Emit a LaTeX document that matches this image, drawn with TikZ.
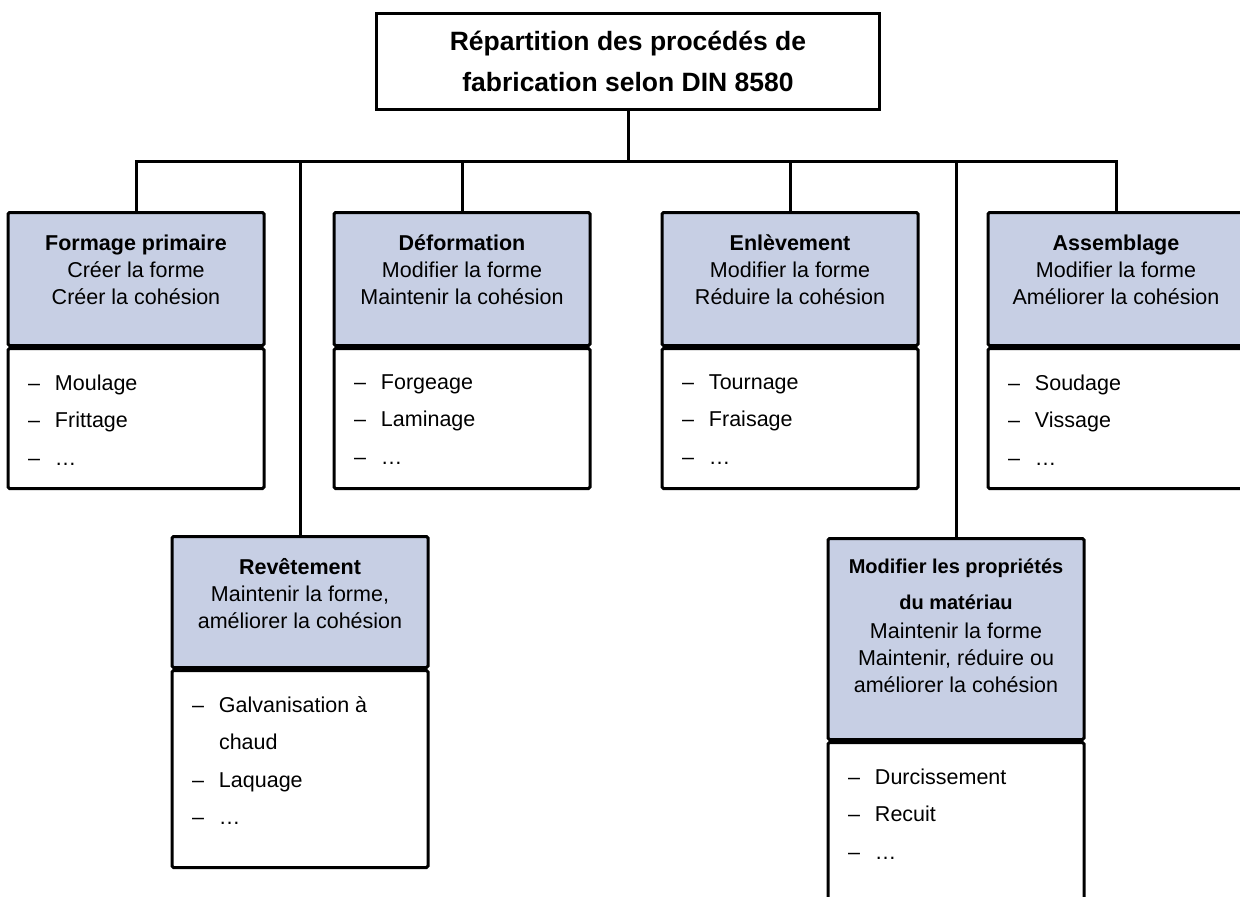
\documentclass[tikz,border=0pt]{standalone}
\usepackage{fontspec}
\setmainfont{Liberation Sans}
\usetikzlibrary{positioning}
\definecolor{headblue}{RGB}{199,207,228}

\begin{document}
\begin{tikzpicture}[x = {(1pt,0pt)},
                    y = {(0pt,-1pt)},
                    line width=3pt,
                    font=\fontsize{21.5}{27}\selectfont,
                    titlebox/.style={draw, minimum width=503pt, minimum height=96pt,
                                     align=center, font=\fontsize{26.5}{41}\selectfont\bfseries},
                    headbox/.style={draw, fill=headblue, rounded corners=1.5pt, anchor=north,
                                    minimum width=256pt, inner sep=0pt},
                    listbox/.style={draw, fill=white, rounded corners=1.5pt,
                                    minimum width=256pt, inner sep=0pt},
                    headtext/.style={align=center, inner sep=0pt,
                                     execute at begin node=\rule{0pt}{17pt}},
                    listtext/.style={align=left, inner sep=0pt,
                                     font=\fontsize{21.5}{37.5}\selectfont,
                                     execute at begin node=\rule{0pt}{17pt}},
                    link/.style={draw, line width=3pt}]

    \def\tiret{\makebox[27pt][l]{–}}

    \useasboundingbox (0,0) rectangle (1240,897);
    \clip (0,0) rectangle (1240,897);

    % top
    \node[titlebox] (title) at (628,61) {Répartition des procédés de\\fabrication selon DIN 8580};
    \coordinate (bus) at (628,161);

    % boxes of the first row
    \node[headbox, minimum height=133pt] (fpH) at (136,211) {};
    \node[listbox, minimum height=140pt, below=0pt of fpH] (fpL) {};
    \node[headbox, minimum height=133pt] (dfH) at (462,211) {};
    \node[listbox, minimum height=140pt, below=0pt of dfH] (dfL) {};
    \node[headbox, minimum height=133pt] (enH) at (790,211) {};
    \node[listbox, minimum height=140pt, below=0pt of enH] (enL) {};
    \node[headbox, minimum height=133pt] (asH) at (1116,211) {};
    \node[listbox, minimum height=140pt, below=0pt of asH] (asL) {};

    % boxes of the second row
    \node[headbox, minimum height=131pt] (rvH) at (300,535) {};
    \node[listbox, minimum height=197pt, below=0pt of rvH] (rvL) {};
    \node[headbox, minimum height=201pt] (mpH) at (956,537) {};
    \node[listbox, minimum height=200pt, below=0pt of mpH] (mpL) {};

    % texts
    \node[headtext, below=22pt of fpH.north] (fpT) {\textbf{Formage primaire}\\Créer la forme\\Créer la cohésion};
    \node[listtext, below right=26pt and 20pt of fpL.north west] (fpI) {\tiret Moulage\\\tiret Frittage\\\tiret \dots};

    \node[headtext, below=22pt of dfH.north] (dfT) {\textbf{Déformation}\\Modifier la forme\\Maintenir la cohésion};
    \node[listtext, below right=26pt and 20pt of dfL.north west] (dfI) {\tiret Forgeage\\\tiret Laminage\\\tiret \dots};

    \node[headtext, below=22pt of enH.north] (enT) {\textbf{Enlèvement}\\Modifier la forme\\Réduire la cohésion};
    \node[listtext, below right=26pt and 20pt of enL.north west] (enI) {\tiret Tournage\\\tiret Fraisage\\\tiret \dots};

    \node[headtext, below=22pt of asH.north] (asT) {\textbf{Assemblage}\\Modifier la forme\\Améliorer la cohésion};
    \node[listtext, below right=26pt and 20pt of asL.north west] (asI) {\tiret Soudage\\\tiret Vissage\\\tiret \dots};

    \node[headtext, below=22pt of rvH.north] (rvT) {\textbf{Revêtement}\\Maintenir la forme,\\améliorer la cohésion};
    \node[listtext, below right=26pt and 20pt of rvL.north west] (rvI) {\tiret Galvanisation à\\\hspace*{27pt}chaud\\\tiret Laquage\\\tiret \dots};

    \node[headtext, below=20pt of mpH.north] (mpT) {{\fontsize{20}{24}\selectfont\bfseries Modifier les propriétés}\\[9pt]
        {\fontsize{20}{24}\selectfont\bfseries du matériau}\\[2pt]
        Maintenir la forme\\Maintenir, réduire ou\\améliorer la cohésion};
    \node[listtext, below right=26pt and 20pt of mpL.north west] (mpI) {\tiret Durcissement\\\tiret Recuit\\\tiret \dots};

    % connectors
    \draw[link] (title.south) -- (bus);
    \draw[link] (fpH.north) |- (bus) -| (asH.north);
    \draw[link] (dfH.north) -- (dfH.north |- bus);
    \draw[link] (enH.north) -- (enH.north |- bus);
    \draw[link] (rvH.north) -- (rvH.north |- bus);
    \draw[link] (mpH.north) -- (mpH.north |- bus);

\end{tikzpicture}
\end{document}
